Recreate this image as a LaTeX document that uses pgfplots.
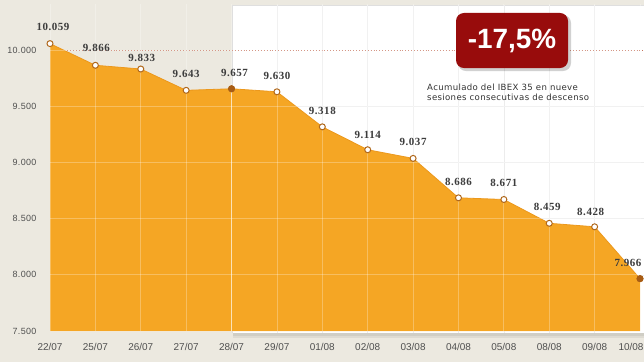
\documentclass[border=0pt]{standalone}
\usepackage{pgfplots}
\usepackage{pgfplotstable}
\pgfplotsset{compat=1.18}
\usepackage{fontspec}
\setmainfont{Liberation Sans}
\newfontfamily\valfont[LetterSpace=5]{Liberation Serif}
\newfontfamily\notefont[LetterSpace=4]{DejaVu Sans}
\newfontfamily\tickfont[LetterSpace=4]{Liberation Sans}
\definecolor{bg}{RGB}{236,233,224}
\definecolor{area}{RGB}{245,166,36}
\definecolor{areaedge}{RGB}{236,152,28}
\definecolor{markedge}{RGB}{176,104,28}
\definecolor{markfill}{RGB}{168,92,20}
\definecolor{boxred}{RGB}{152,12,12}
\definecolor{dotred}{RGB}{196,112,88}
\definecolor{panelgrid}{RGB}{236,236,236}
\definecolor{txt}{RGB}{80,80,80}
\definecolor{valtxt}{RGB}{60,60,60}

\pgfplotstableread{
x y dx dy
0 10059 3 17
1 9866 1 17
2 9833 1 11
3 9643 0 16
4 9657 3 16
5 9630 0 16
6 9318 0 16
7 9114 0 15
8 9037 0 16
9 8686 0 16
10 8671 0 17
11 8459 -2 16
12 8428 -4 15
13 7966 -12 16
}\ibex

\begin{document}
\begin{tikzpicture}[x=1bp,y=1bp]
\useasboundingbox (0,0) rectangle (644,362);
\fill[bg] (0,0) rectangle (644,362);
% white panel with shadow
\fill[black,opacity=0.06] (233,24) rectangle (644,29);
\fill[black,opacity=0.06] (233,26) rectangle (644,29);
\fill[white] (232,29) rectangle (644,357);
\draw[gray!25] (232,29) -- (232,357) -- (644,357);
\foreach \i in {5,...,12} \draw[panelgrid] ({50+\i*590/13},29) -- ({50+\i*590/13},357);
\foreach \v in {8000,8500,9000,9500} \draw[panelgrid] (232,{31+(\v-7500)*0.11230}) -- (644,{31+(\v-7500)*0.11230});
\draw[dotred, dotted, line width=0.9] (50,311.8) -- (644,311.8);
\begin{axis}[
  at={(50bp,31bp)}, anchor=south west,
  scale only axis, width=590bp, height=326.8bp,
  xmin=0, xmax=13, ymin=7500, ymax=10410,
  clip=false,
  axis line style={draw=none},
  major tick length=0pt,
  axis on top,
  grid=major,
  major grid style={white, opacity=0.28, line width=0.8bp},
  scaled y ticks=false,
  ytick={7500,8000,8500,9000,9500,10000},
  yticklabel style={font=\tickfont\fontsize{9}{10}\selectfont, text=txt, xshift=-10bp},
  xtick={0,...,12},
  xticklabels={22/07,25/07,26/07,27/07,28/07,29/07,01/08,02/08,03/08,04/08,05/08,08/08,09/08},
  extra x ticks={13},
  extra x tick labels={10/08},
  extra x tick style={grid=major, xticklabel style={xshift=-9bp}},
  xticklabel style={font=\fontsize{10}{12}\selectfont, text=txt, yshift=-9bp},
  /pgf/number format/.cd, 1000 sep={.}, fixed, precision=0, assume math mode=true,
]
\addplot[draw=none, fill=area] table[x=x, y=y] {\ibex} \closedcycle;
\draw[white!55!area, line width=1.2bp] (axis cs:4,7500) -- (axis cs:4,9657);
\addplot[draw=areaedge, line width=0.8bp, mark=*, mark size=3bp,
  mark options={fill=white, draw=markedge, line width=1bp},
  point meta=explicit,
  nodes near coords,
  visualization depends on={\thisrow{dx} \as \dx},
  visualization depends on={\thisrow{dy} \as \dy},
  nodes near coords style={font=\valfont\bfseries\fontsize{11}{12}\selectfont, text=valtxt, anchor=center, xshift=\dx bp, yshift=\dy bp},
] table[x=x, y=y, meta=y] {\ibex};
\addplot[only marks, mark=*, mark size=3.2bp, mark options={fill=markfill, draw=markfill}] coordinates {(4,9657) (13,7966)};
\end{axis}
\fill[black,opacity=0.18,rounded corners=8] (458,291) rectangle (571,347);
\fill[boxred, rounded corners=8] (456,294) rectangle (568,349);
\node[text=white, font=\bfseries\fontsize{28}{30}\selectfont] at (512,321.5) {-17,5\%};
\node[anchor=west, align=left, inner sep=0pt, font=\notefont\fontsize{8.6}{10}\selectfont, text=black!80] at (427,270) {Acumulado del IBEX 35 en nueve\\sesiones consecutivas de descenso};
\end{tikzpicture}
\end{document}
